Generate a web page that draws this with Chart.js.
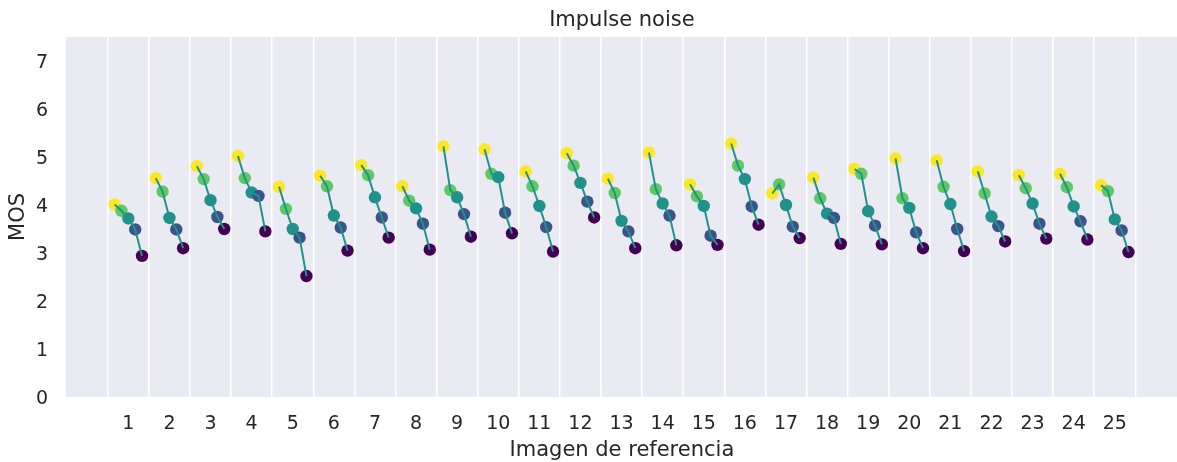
<!DOCTYPE html>
<html lang="es">
<head>
  <meta charset="UTF-8">
  <title>Impulse noise</title>
  <style>
    * {
      margin: 0;
      padding: 0;
      box-sizing: border-box;
    }

    html, body {
      background: #fff;
      width: 1177px;
      height: 462px;
      overflow: hidden;
    }

    .chart-clip {
      width: 1177px;
      height: 462px;
      overflow: hidden;
    }

    /* the original axes run a few pixels past the right edge of the picture */
    #mosChart {
      display: block;
      width: 1184px;
      height: 462px;
    }
  </style>
</head>
<body>

  <div class="chart-clip">
    <canvas id="mosChart" width="1184" height="462"></canvas>
  </div>

  <script src="https://cdn.jsdelivr.net/npm/chart.js"></script>

  <script>
    // Reference images (x axis) and tick values (y axis)
    const refLabels = ['1', '2', '3', '4', '5', '6', '7', '8', '9', '10', '11', '12', '13',
                       '14', '15', '16', '17', '18', '19', '20', '21', '22', '23', '24', '25'];
    const mosTicks = [0, 1, 2, 3, 4, 5, 6, 7];

    // MOS per reference image, one array per distortion level (lightest to strongest)
    const level1 = [4.01, 4.56, 4.81, 5.02, 4.38, 4.61, 4.83, 4.39, 5.22, 5.16, 4.70, 5.08, 4.55,
                    5.09, 4.43, 5.28, 4.24, 4.57, 4.75, 4.97, 4.93, 4.70, 4.62, 4.65, 4.41];
    const level2 = [3.88, 4.28, 4.54, 4.56, 3.92, 4.39, 4.62, 4.09, 4.31, 4.65, 4.39, 4.82, 4.25,
                    4.33, 4.18, 4.82, 4.43, 4.14, 4.65, 4.14, 4.38, 4.24, 4.35, 4.37, 4.29];
    const level3 = [3.72, 3.73, 4.10, 4.26, 3.50, 3.78, 4.16, 3.93, 4.16, 4.58, 3.98, 4.46, 3.67,
                    4.03, 3.98, 4.54, 4.00, 3.82, 3.87, 3.94, 4.02, 3.76, 4.03, 3.97, 3.70];
    const level4 = [3.49, 3.49, 3.75, 4.19, 3.32, 3.53, 3.74, 3.61, 3.81, 3.84, 3.54, 4.07, 3.45,
                    3.78, 3.36, 3.97, 3.55, 3.73, 3.57, 3.43, 3.50, 3.56, 3.61, 3.66, 3.47];
    const level5 = [2.94, 3.10, 3.50, 3.45, 2.52, 3.05, 3.32, 3.07, 3.34, 3.41, 3.03, 3.74, 3.10,
                    3.16, 3.17, 3.59, 3.31, 3.19, 3.18, 3.10, 3.04, 3.24, 3.30, 3.28, 3.02];

    const levels = [level1, level2, level3, level4, level5];
    const levelColors = ['#fde725', '#5ec962', '#21918c', '#3b528b', '#440154'];

    // each image takes 6 slots on the x axis: 5 levels + 1 empty gap
    const SLOT = 6;
    const xOf = (img, lvl) => img * SLOT + lvl;

    // one scatter dataset per level
    const pointSets = levels.map((vals, lvl) => ({
      type: 'scatter',
      xAxisID: 'x',
      yAxisID: 'y',
      data: vals.map((v, img) => ({ x: xOf(img, lvl), y: v })),
      backgroundColor: levelColors[lvl],
      borderWidth: 0,
      pointRadius: 6.2,
      pointHoverRadius: 6.2,
      order: levels.length - lvl
    }));

    // connecting line, broken between images
    const lineData = [];
    refLabels.forEach((lab, img) => {
      levels.forEach((vals, lvl) => lineData.push({ x: xOf(img, lvl), y: vals[img] }));
      lineData.push({ x: xOf(img, levels.length), y: null });
    });

    const lineSet = {
      type: 'scatter',
      xAxisID: 'x',
      yAxisID: 'y',
      data: lineData,
      showLine: true,
      spanGaps: false,
      borderColor: '#21918c',
      borderWidth: 2,
      pointRadius: 0,
      pointHoverRadius: 0,
      order: 0
    };

    // grey plotting area like seaborn darkgrid
    const plotBackground = {
      id: 'plotBackground',
      beforeDraw(chart) {
        const { ctx, chartArea } = chart;
        ctx.save();
        ctx.fillStyle = '#eaeaf2';
        ctx.fillRect(chartArea.left, chartArea.top, chartArea.right - chartArea.left, chartArea.bottom - chartArea.top);
        ctx.restore();
      }
    };

    const textColor = '#262626';
    const fontFamily = '"DejaVu Sans", sans-serif';

    const ctx = document.getElementById('mosChart').getContext('2d');
    const mosChart = new Chart(ctx, {
      data: { datasets: [lineSet, ...pointSets] },
      plugins: [plotBackground],
      options: {
        responsive: false,
        animation: false,
        layout: { padding: 0 },
        plugins: {
          legend: { display: false },
          tooltip: { enabled: false }
        },
        scales: {
          x: {
            type: 'linear',
            min: -7.1,
            max: 155.2,
            afterBuildTicks: (scale) => {
              scale.ticks = refLabels.map((lab, img) => ({ value: xOf(img, 2) }));
            },
            afterFit: (scale) => { scale.height = 65; },
            ticks: {
              color: textColor,
              font: { family: fontFamily, size: 19 },
              padding: 15.5,
              maxRotation: 0,
              autoSkip: false,
              callback: (val, i) => refLabels[i]
            },
            grid: {
              color: '#ffffff',
              lineWidth: 1.5,
              offset: true,
              drawTicks: false
            },
            border: { display: false },
            title: {
              display: true,
              text: 'Imagen de referencia',
              color: textColor,
              font: { family: fontFamily, size: 21, lineHeight: 1.05 },
              padding: { top: 0, bottom: 0 }
            }
          },
          y: {
            min: 0,
            max: 7.5,
            afterBuildTicks: (scale) => {
              scale.ticks = mosTicks.map(v => ({ value: v }));
            },
            afterFit: (scale) => { scale.width = 66; },
            ticks: {
              color: textColor,
              font: { family: fontFamily, size: 19 },
              padding: 18,
              labelOffset: 2
            },
            grid: { display: false, drawTicks: false },
            border: { display: false },
            title: {
              display: true,
              text: 'MOS',
              color: textColor,
              font: { family: fontFamily, size: 21 },
              padding: { top: 6.4, bottom: 0 }
            }
          },
          // top axis only carries the chart title, centred on the axes
          titleAxis: {
            type: 'linear',
            axis: 'x',
            position: 'top',
            min: 0,
            max: 1,
            afterFit: (scale) => { scale.height = 37; },
            ticks: { display: false },
            grid: { display: false, drawTicks: false },
            border: { display: false },
            title: {
              display: true,
              text: 'Impulse noise',
              color: textColor,
              font: { family: fontFamily, size: 21 },
              padding: { top: 7.5, bottom: 0 }
            }
          }
        }
      }
    });
  </script>

</body>
</html>
